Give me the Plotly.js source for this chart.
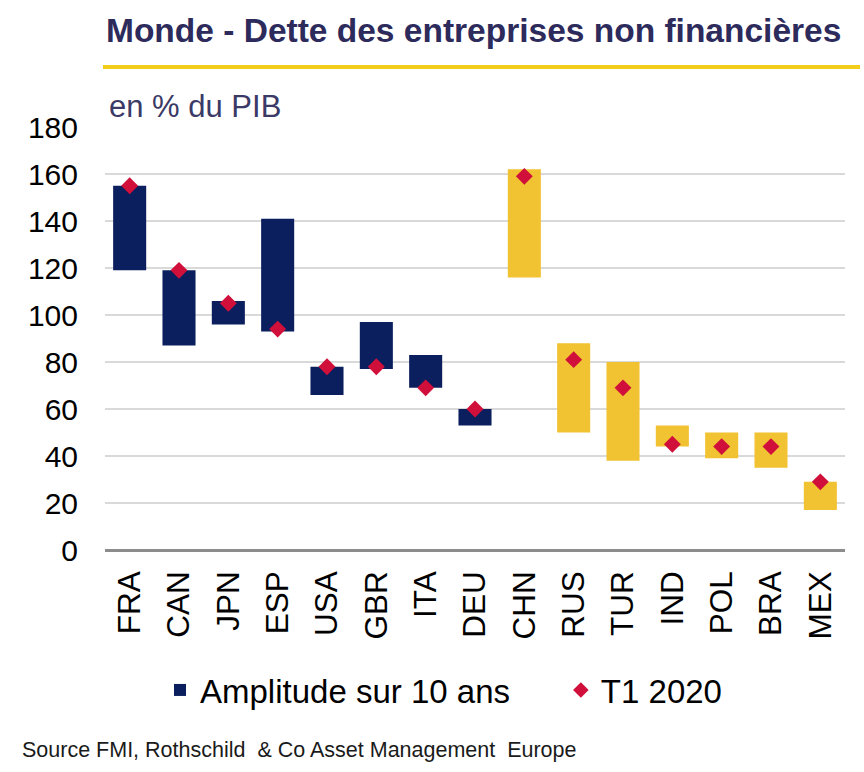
<!DOCTYPE html>
<html>
<head>
<meta charset="utf-8">
<script src="https://cdn.plot.ly/plotly-3.0.1.min.js"></script>
<style>
html, body { margin: 0; padding: 0; background: #ffffff; }
#chart { width: 864px; height: 772px; }
</style>
</head>
<body>
<div id="chart"></div>
<script>
// Data (% du PIB)
const countries = ["FRA", "CAN", "JPN", "ESP", "USA", "GBR", "ITA", "DEU", "CHN", "RUS", "TUR", "IND", "POL", "BRA", "MEX"];
const groups    = ["adv", "adv", "adv", "adv", "adv", "adv", "adv", "adv", "emg", "emg", "emg", "emg", "emg", "emg", "emg"];
const low10y    = [119, 87, 96, 93, 66, 77, 69, 53, 116, 50, 38, 44, 39, 35, 17];
const high10y   = [155, 119, 106, 141, 78, 97, 83, 60, 162, 88, 80, 53, 50, 50, 29];
const t1_2020   = [155, 119, 105, 94, 78, 78, 69, 60, 159, 81, 69, 45, 44, 44, 29];
const yTicks    = [0, 20, 40, 60, 80, 100, 120, 140, 160, 180];

const NAVY = "#0b1f5e";
const YELLOW = "#f1c232";
const RED = "#d0103a";
const FONT = "Arial, 'Liberation Sans', sans-serif";

const barColors = groups.map(g => g === "adv" ? NAVY : YELLOW);
const spans = high10y.map((h, i) => h - low10y[i]);

const traces = [
  {
    type: "bar",
    name: "Amplitude sur 10 ans\u00a0\u00a0\u00a0\u00a0\u00a0",
    x: countries,
    y: spans,
    base: low10y,
    marker: { color: barColors, line: { width: 0 } },
    hoverinfo: "skip"
  },
  {
    type: "scatter",
    mode: "markers",
    name: "T1 2020",
    x: countries,
    y: t1_2020,
    marker: { symbol: "diamond", size: 13, color: RED, line: { width: 0 } }
  }
];

const layout = {
  width: 864,
  height: 772,
  margin: { l: 105, r: 19, t: 127, b: 222, autoexpand: false },
  paper_bgcolor: "#ffffff",
  plot_bgcolor: "#ffffff",
  font: { family: FONT, color: "#000000" },
  bargap: 0.33,
  showlegend: true,
  title: {
    text: "<b>Monde - Dette des entreprises non financières</b>",
    font: { family: FONT, size: 33.5, color: "#2d2a5c" },
    xref: "container", yref: "container",
    x: 106 / 864, xanchor: "left",
    y: 1 - 30 / 772, yanchor: "middle"
  },
  xaxis: {
    type: "category",
    range: [-0.5, countries.length - 0.5],
    autorange: false,
    tickangle: -90,
    tickfont: { family: FONT, size: 31.5, color: "#000000" },
    showgrid: false,
    showline: false,
    zeroline: false,
    ticks: "",
    ticklabelstandoff: 14,
    fixedrange: true
  },
  yaxis: {
    range: [0, 180],
    autorange: false,
    tickvals: yTicks,
    ticktext: yTicks.map(String),
    tickfont: { family: FONT, size: 30, color: "#000000" },
    showgrid: true,
    gridcolor: "#d9d9d9",
    gridwidth: 1.5,
    zeroline: true,
    zerolinecolor: "#8c8c8c",
    zerolinewidth: 3,
    showline: false,
    ticks: "",
    ticklabelstandoff: 26,
    fixedrange: true
  },
  legend: {
    orientation: "h",
    xref: "container",
    x: 160 / 864, xanchor: "left",
    y: (550 - 690) / 423, yanchor: "middle",
    font: { family: FONT, size: 33, color: "#000000" },
    itemsizing: "constant",
    tracegroupgap: 0,
    bgcolor: "rgba(0,0,0,0)"
  },
  shapes: [
    {
      type: "line", xref: "paper", yref: "paper",
      x0: -2 / 740, x1: 755 / 740,
      y0: (550 - 67) / 423, y1: (550 - 67) / 423,
      line: { color: "#f4cc1a", width: 4 }
    }
  ],
  annotations: [
    {
      text: "en % du PIB",
      xref: "paper", yref: "paper",
      x: 2 / 740, xanchor: "left",
      y: (550 - 107) / 423, yanchor: "middle",
      showarrow: false,
      font: { family: FONT, size: 31, color: "#3b3966" }
    },
    {
      text: "Source FMI, Rothschild  & Co Asset Management  Europe",
      xref: "paper", yref: "paper",
      x: (20 - 105) / 740, xanchor: "left",
      y: (550 - 750) / 423, yanchor: "middle",
      showarrow: false,
      font: { family: FONT, size: 21.5, color: "#1a1a1a" }
    }
  ]
};

Plotly.newPlot("chart", traces, layout, { displayModeBar: false, staticPlot: true });
</script>
</body>
</html>
